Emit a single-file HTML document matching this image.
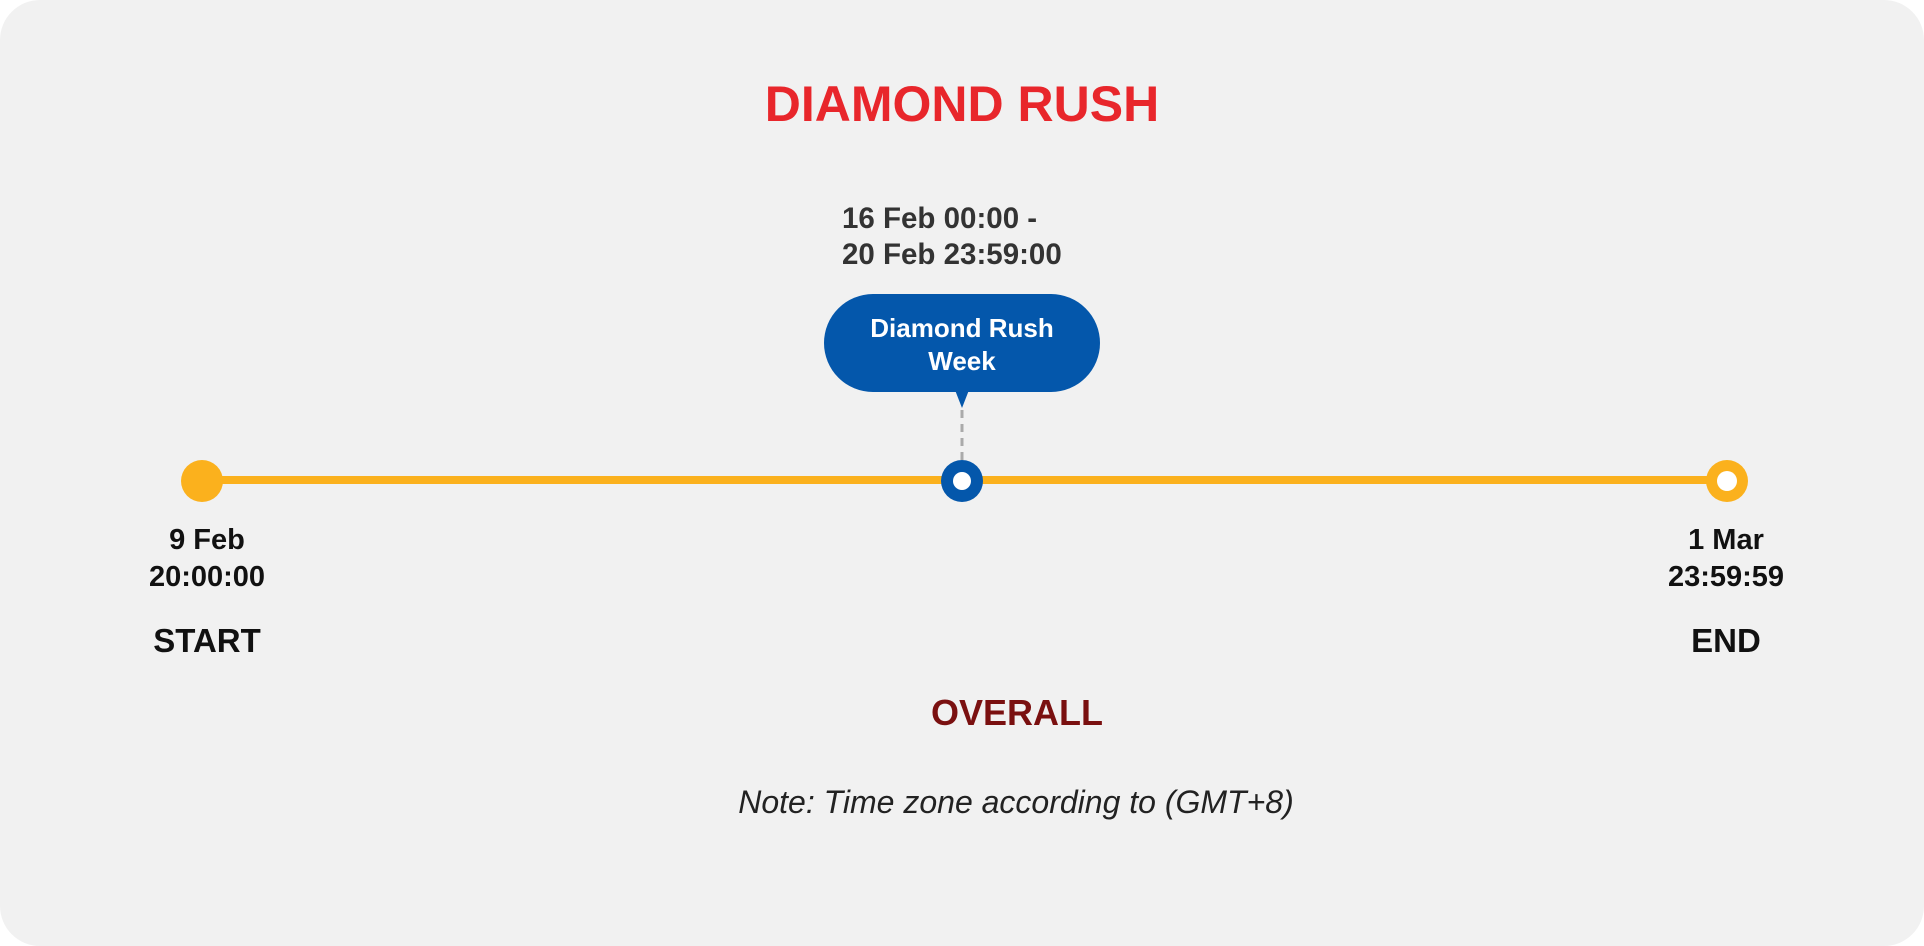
<!DOCTYPE html>
<html><head><meta charset="utf-8"><style>
html,body{margin:0;padding:0;background:#fff;}
body{width:1924px;height:946px;position:relative;overflow:hidden;font-family:"Liberation Sans","DejaVu Sans",sans-serif;}
.card{position:absolute;left:0;top:0;width:1924px;height:946px;background:#f1f1f1;border-radius:40px;}
.t{position:absolute;white-space:nowrap;font-weight:bold;}
.c{transform:translateX(-50%);text-align:center;}
</style></head><body>
<div class="card"></div>
<div class="t c" style="left:962px;top:75px;font-size:50px;color:#e8262b;">DIAMOND RUSH</div>
<div class="t" style="left:842px;top:201px;font-size:29.5px;line-height:36px;color:#333;">16 Feb 00:00 -<br>20 Feb 23:59:00</div>
<div style="position:absolute;left:824px;top:294px;width:276px;height:98px;border-radius:49px;background:#0457ab;"></div>
<div class="t c" style="left:962px;top:312px;font-size:26px;line-height:33px;color:#fff;">Diamond Rush<br>Week</div>
<svg width="1924" height="946" style="position:absolute;left:0;top:0">
<polygon points="955,390 969,390 962,408" fill="#0457ab"/>
<line x1="962" y1="410" x2="962" y2="460" stroke="#aaa" stroke-width="3" stroke-dasharray="8,6"/>
<line x1="202" y1="480" x2="1726" y2="480" stroke="#fbb11d" stroke-width="8"/>
<circle cx="202" cy="481" r="21" fill="#fbb11d"/>
<circle cx="962" cy="481" r="21" fill="#0457ab"/>
<circle cx="962" cy="481" r="9" fill="#fff"/>
<circle cx="1727" cy="481" r="21" fill="#fbb11d"/>
<circle cx="1727" cy="481" r="10" fill="#fff"/>
</svg>
<div class="t c" style="left:207px;top:522px;font-size:29px;line-height:37px;color:#111;">9 Feb<br>20:00:00</div>
<div class="t c" style="left:1726px;top:522px;font-size:29px;line-height:37px;color:#111;">1 Mar<br>23:59:59</div>
<div class="t c" style="left:207px;top:622px;font-size:33px;color:#111;">START</div>
<div class="t c" style="left:1726px;top:622px;font-size:33px;color:#111;">END</div>
<div class="t c" style="left:1017px;top:692px;font-size:36px;color:#7a1010;">OVERALL</div>
<div class="t c" style="left:1016px;top:784px;font-size:32px;font-weight:normal;font-style:italic;color:#222;">Note: Time zone according to (GMT+8)</div>
</body></html>
